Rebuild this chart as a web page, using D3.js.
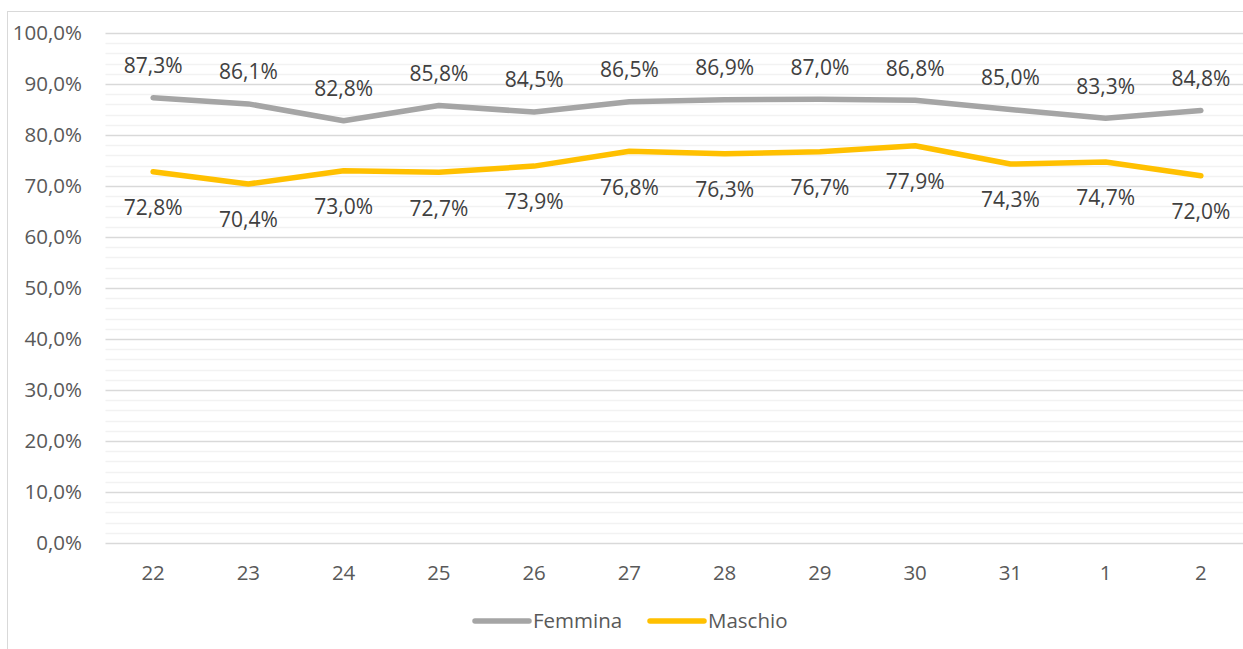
<!DOCTYPE html>
<html><head><meta charset="utf-8">
<script src="https://cdn.jsdelivr.net/npm/d3@7"></script>
<style>body{margin:0;background:#fff;}svg{display:block;font-family:"Open Sans",sans-serif;}</style>
</head><body>
<svg id="c" width="1243" height="649"></svg>
<script>
const categories = ["22","23","24","25","26","27","28","29","30","31","1","2"];
const femmina = [87.3,86.1,82.8,85.8,84.5,86.5,86.9,87.0,86.8,85.0,83.3,84.8];
const maschio = [72.8,70.4,73.0,72.7,73.9,76.8,76.3,76.7,77.9,74.3,74.7,72.0];
const yTicks = [0,10,20,30,40,50,60,70,80,90,100];
const minorTicks = d3.range(0,101,2);
const seriesNames = ["Femmina","Maschio"];
const colors = ["#a5a5a5","#ffc000"];

(function(){
const svg = d3.select("#c");
svg.append("rect").attr("x",7.5).attr("y",11.5).attr("width",1260).attr("height",660)
  .attr("fill","#fff").attr("stroke","#d9d9d9");

const pl=105.5, pr=1248.5, pt=33, pb=543;
const x = d3.scaleBand().domain(categories).range([pl,pr]);
const y = d3.scaleLinear().domain([0,100]).range([pb,pt]);
const fmt = v => v.toFixed(1).replace(".",",")+"%";
const fs = 20.5, fsl = 21;

svg.append("g").selectAll("line").data(minorTicks.filter(t=>t%10!==0)).join("line")
  .attr("x1",pl).attr("x2",pr).attr("y1",d=>Math.round(y(d))+0.5).attr("y2",d=>Math.round(y(d))+0.5)
  .attr("stroke","#f2f2f2").attr("stroke-width",1.5);
svg.append("g").selectAll("line").data(yTicks).join("line")
  .attr("x1",pl).attr("x2",pr).attr("y1",d=>Math.round(y(d))+0.5).attr("y2",d=>Math.round(y(d))+0.5)
  .attr("stroke","#d9d9d9").attr("stroke-width",1.5);

svg.append("g").selectAll("text").data(yTicks).join("text")
  .attr("x",82).attr("y",d=>y(d)).attr("dy","0.35em").attr("text-anchor","end")
  .attr("font-size",fs).attr("fill","#595959").text(d=>fmt(d));

svg.append("g").selectAll("text").data(categories).join("text")
  .attr("x",d=>x(d)+x.bandwidth()/2).attr("y",573).attr("dy","0.35em").attr("text-anchor","middle")
  .attr("font-size",fs).attr("fill","#595959").text(d=>d);

const line = d3.line().x((d,i)=>x(categories[i])+x.bandwidth()/2).y(d=>y(d));
[femmina,maschio].forEach((s,k)=>{
  svg.append("path").datum(s).attr("d",line).attr("fill","none").attr("stroke",colors[k])
    .attr("stroke-width",5.5).attr("stroke-linejoin","round").attr("stroke-linecap","round");
});
svg.append("g").selectAll("text").data(femmina).join("text")
  .attr("x",(d,i)=>x(categories[i])+x.bandwidth()/2).attr("y",d=>y(d)-32).attr("dy","0.35em").attr("text-anchor","middle")
  .attr("font-size",fsl).attr("fill","#404040").text(d=>fmt(d));
svg.append("g").selectAll("text").data(maschio).join("text")
  .attr("x",(d,i)=>x(categories[i])+x.bandwidth()/2).attr("y",d=>y(d)+36).attr("dy","0.35em").attr("text-anchor","middle")
  .attr("font-size",fsl).attr("fill","#404040").text(d=>fmt(d));

const leg = [{x:475,tx:533},{x:650,tx:708}];
seriesNames.forEach((n,k)=>{
  svg.append("line").attr("x1",leg[k].x).attr("x2",leg[k].x+54).attr("y1",621).attr("y2",621)
    .attr("stroke",colors[k]).attr("stroke-width",5.5).attr("stroke-linecap","round");
  svg.append("text").attr("x",leg[k].tx).attr("y",621).attr("dy","0.35em").attr("font-size",fs)
    .attr("fill","#595959").text(n);
});
})();
</script>
</body></html>
